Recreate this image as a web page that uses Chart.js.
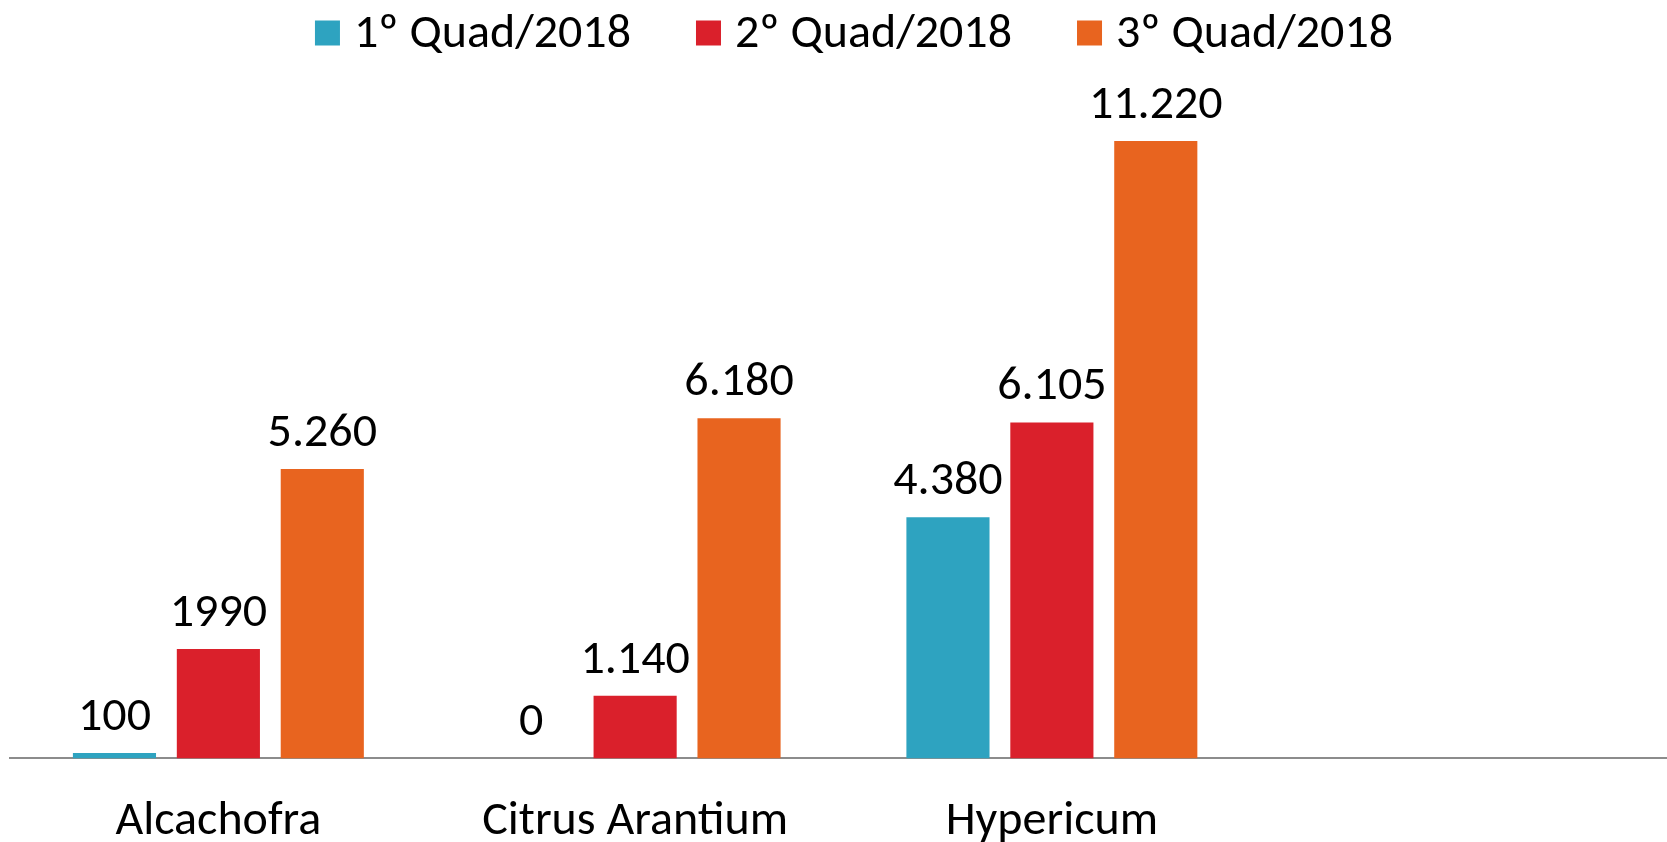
<!DOCTYPE html>
<html>
<head>
<meta charset="utf-8">
<script src="https://cdn.jsdelivr.net/npm/chart.js@4/dist/chart.umd.min.js"></script>
<style>
html,body{margin:0;padding:0;background:#fff;overflow:hidden;}
#wrap{width:1677px;height:842px;position:relative;}
</style>
</head>
<body>
<div id="wrap"><canvas id="c"></canvas></div>
<script>
const categories = ["Alcachofra", "Citrus Arantium", "Hypericum", ""];
const seriesNames = ["1º Quad/2018", "2º Quad/2018", "3º Quad/2018"];
const q1Values = [100, 0, 4380, null];
const q2Values = [1990, 1140, 6105, null];
const q3Values = [5260, 6180, 11220, null];
const q1Labels = ["100", "0", "4.380", ""];
const q2Labels = ["1990", "1.140", "6.105", ""];
const q3Labels = ["5.260", "6.180", "11.220", ""];
const seriesColors = ['#2EA3C0', '#DA202B', '#E8641F'];

const FONT = "Carlito, Calibri, Lato, sans-serif";
const FS = 48;

const valueLabelPlugin = {
  id: 'valueLabels',
  afterDatasetsDraw(chart) {
    const ctx = chart.ctx;
    ctx.save();
    ctx.font = FS + "px " + FONT;
    ctx.fillStyle = "#000";
    ctx.textAlign = "center";
    ctx.textBaseline = "alphabetic";
    chart.data.datasets.forEach((ds, di) => {
      const meta = chart.getDatasetMeta(di);
      meta.data.forEach((el, i) => {
        const txt = ds.valueLabels[i];
        if (!txt || ds.data[i] === null) return;
        ctx.fillText(txt, el.x, el.y - 23);
      });
    });
    ctx.restore();
  }
};

const legendPlugin = {
  id: 'customLegend',
  afterDraw(chart) {
    const ctx = chart.ctx;
    ctx.save();
    ctx.font = FS + "px " + FONT;
    const box = 25, gapText = 14, gapItem = 65;
    const items = chart.data.datasets.map(ds => ({
      text: ds.label, color: ds.backgroundColor, w: ctx.measureText(ds.label).width
    }));
    let total = 0;
    items.forEach((it, i) => { total += box + gapText + it.w + (i < items.length - 1 ? gapItem : 0); });
    let x = 854 - total / 2;
    const cy = 33;
    ctx.textBaseline = "middle";
    ctx.textAlign = "left";
    items.forEach(it => {
      ctx.fillStyle = it.color;
      ctx.fillRect(x, cy - box / 2, box, box);
      ctx.fillStyle = "#000";
      ctx.fillText(it.text, x + box + gapText, cy + 2);
      x += box + gapText + it.w + gapItem;
    });
    ctx.restore();
  }
};

new Chart(document.getElementById('c'), {
  type: 'bar',
  data: {
    labels: categories,
    datasets: [
      {label: seriesNames[0], data: q1Values, valueLabels: q1Labels, backgroundColor: seriesColors[0]},
      {label: seriesNames[1], data: q2Values, valueLabels: q2Labels, backgroundColor: seriesColors[1]},
      {label: seriesNames[2], data: q3Values, valueLabels: q3Labels, backgroundColor: seriesColors[2]}
    ]
  },
  options: {
    responsive: true,
    maintainAspectRatio: false,
    animation: false,
    layout: {padding: {left: 10, right: 0, top: 98, bottom: -36}},
    datasets: {bar: {categoryPercentage: 0.748, barPercentage: 0.8}},
    plugins: {
      legend: {display: false},
      tooltip: {enabled: false},
      title: {display: false}
    },
    scales: {
      x: {
        grid: {display: false},
        border: {display: true, color: '#8c8c8c', width: 2},
        ticks: {font: {family: FONT, size: FS}, color: '#000', padding: 27, maxRotation: 0}
      },
      y: {
        display: false,
        min: 0,
        max: 12000
      }
    }
  },
  plugins: [valueLabelPlugin, legendPlugin]
});
</script>
</body>
</html>
